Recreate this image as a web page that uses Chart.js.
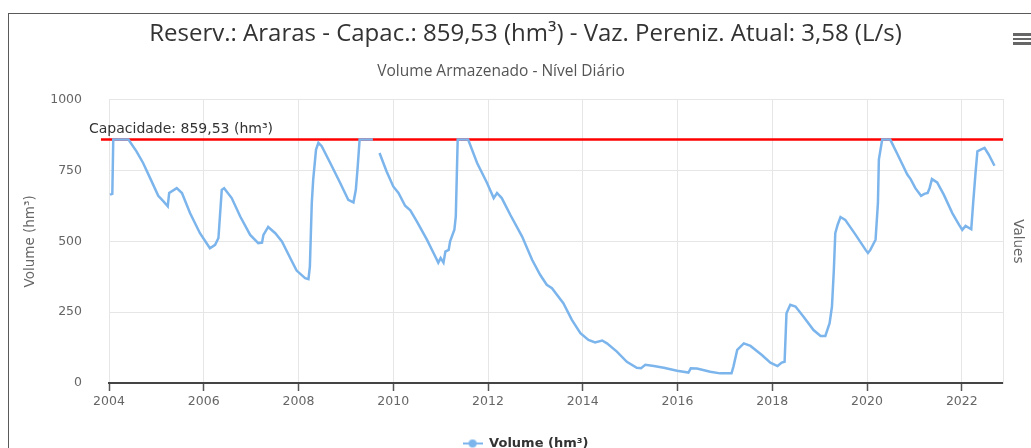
<!DOCTYPE html>
<html>
<head>
<meta charset="utf-8">
<script src="https://cdn.jsdelivr.net/npm/chart.js@4.4.1/dist/chart.umd.min.js"></script>
<style>
  html, body { margin: 0; padding: 0; background: #fff; overflow: hidden; }
  #frame { position: absolute; left: 8px; top: 13px; width: 1100px; height: 500px; border: 1px solid #5a5a5a; }
  #wrap { position: absolute; left: 0; top: 0; width: 1031px; height: 470px; }
  #menu { position: absolute; left: 1013px; top: 33px; width: 18px; }
  #menu span { display: block; height: 2.5px; background: #666; margin-bottom: 2px; }
</style>
</head>
<body>
<div id="frame"></div>
<div id="wrap"><canvas id="volChart"></canvas></div>
<div id="menu"><span></span><span></span><span></span></div>
<script>
/* ── Data ── */
const CAPACITY = 859.53;
const capYears = [2003.83, 2022.87];

const years = [
  2004.02, 2004.07, 2004.09, 2004.41, 2004.58, 2004.72, 2004.90, 2005.04, 2005.15, 2005.24,
  2005.27, 2005.43, 2005.54, 2005.71, 2005.92, 2006.13, 2006.24, 2006.31, 2006.38, 2006.43,
  2006.59, 2006.77, 2006.98, 2007.15, 2007.23, 2007.26, 2007.36, 2007.51, 2007.65, 2007.86,
  2007.96, 2008.14, 2008.21, 2008.24, 2008.28, 2008.31, 2008.37, 2008.42, 2008.49, 2008.67,
  2008.88, 2009.05, 2009.16, 2009.21, 2009.25, 2009.29, 2009.57, 2009.64, 2009.71, 2009.86,
  2010.00, 2010.11, 2010.25, 2010.36, 2010.50, 2010.71, 2010.85, 2010.95, 2011.00, 2011.06,
  2011.10, 2011.17, 2011.20, 2011.29, 2011.32, 2011.36, 2011.58, 2011.77, 2011.98, 2012.12,
  2012.19, 2012.29, 2012.47, 2012.72, 2012.93, 2013.10, 2013.24, 2013.35, 2013.59, 2013.77,
  2013.95, 2014.12, 2014.26, 2014.41, 2014.51, 2014.72, 2014.93, 2015.14, 2015.23, 2015.32,
  2015.50, 2015.71, 2015.99, 2016.23, 2016.28, 2016.41, 2016.69, 2016.90, 2017.14, 2017.18,
  2017.26, 2017.40, 2017.54, 2017.78, 2017.96, 2018.11, 2018.20, 2018.26, 2018.30, 2018.38,
  2018.49, 2018.66, 2018.87, 2019.02, 2019.12, 2019.21, 2019.26, 2019.30, 2019.33, 2019.38,
  2019.44, 2019.54, 2019.76, 2019.97, 2020.02, 2020.07, 2020.18, 2020.23, 2020.25, 2020.32,
  2020.49, 2020.63, 2020.85, 2020.92, 2021.02, 2021.14, 2021.21, 2021.28, 2021.32, 2021.37,
  2021.48, 2021.62, 2021.80, 2021.94, 2022.01, 2022.08, 2022.20, 2022.24, 2022.29, 2022.33,
  2022.40, 2022.48, 2022.57, 2022.69
];

const volume = [
  665, 668, 859.53, 859.53, 818, 777, 712, 661, 641, 624,
  671, 688, 671, 600, 529, 476, 488, 512, 682, 688,
  653, 588, 523, 494, 496, 523, 551, 529, 500, 430,
  397, 370, 367, 411, 635, 718, 824, 848, 836, 777,
  706, 647, 638, 682, 765, 859.53, 859.53, null, 812, 747,
  694, 671, 626, 610, 570, 506, 459, 425, 441, 425,
  464, 470, 500, 541, 588, 859.53, 859.53, 777, 706, 653,
  671, 653, 594, 517, 435, 382, 347, 335, 282, 223,
  176, 152, 143, 150, 140, 111, 75, 54, 52, 64,
  60, 54, 43, 37, 52, 51, 40, 34, 34, 58,
  117, 140, 131, 99, 72, 60, 72, 75, 246, 276,
  270, 234, 187, 166, 166, 211, 270, 400, 529, 559,
  586, 576, 523, 470, 459, 470, 506, 635, 789, 859.53,
  859.53, 812, 736, 720, 688, 661, 668, 671, 688, 720,
  708, 665, 600, 559, 541, 555, 543, 635, 742, 818,
  824, 830, 806, 767
];

const xTicks = [2004, 2006, 2008, 2010, 2012, 2014, 2016, 2018, 2020, 2022];
const yTicks = [0, 250, 500, 750, 1000];

const TITLE    = 'Reserv.: Araras - Capac.: 859,53 (hm³) - Vaz. Pereniz. Atual: 3,58 (L/s)';
const SUBTITLE = 'Volume Armazenado - Nível Diário';
const CAP_LABEL = 'Capacidade: 859,53 (hm³)';

/* ── Styles ── */
const LINE_BLUE = '#7cb5ec';
const GRID      = '#e6e6e6';
const LABEL     = '#666666';
const TICK_FONT = { family: "'DejaVu Sans', sans-serif", size: 12.5 };

/* legend symbol: line with a dot */
const legendMark = document.createElement('canvas');
legendMark.width = 20; legendMark.height = 10;
(function () {
  const c = legendMark.getContext('2d');
  c.strokeStyle = LINE_BLUE; c.lineWidth = 2;
  c.beginPath(); c.moveTo(0, 5); c.lineTo(20, 5); c.stroke();
  c.fillStyle = LINE_BLUE;
  c.beginPath(); c.arc(10, 5, 4, 0, Math.PI * 2); c.fill();
})();

/* subtitle + plot line label */
const extraText = {
  id: 'extraText',
  afterDatasetsDraw(chart) {
    const { ctx, chartArea, scales } = chart;
    ctx.save();
    ctx.textBaseline = 'middle';
    ctx.fillStyle = '#333333';
    ctx.font = "14px 'DejaVu Sans', sans-serif";
    ctx.textAlign = 'left';
    ctx.fillText(CAP_LABEL, chartArea.left - 20, scales.y.getPixelForValue(CAPACITY) - 10);
    ctx.fillStyle = '#555555';
    ctx.font = "15.5px 'Open Sans', sans-serif";
    ctx.textAlign = 'center';
    ctx.fillText(SUBTITLE, 501, 72);
    ctx.restore();
  }
};

new Chart(document.getElementById('volChart'), {
  type: 'line',
  data: {
    datasets: [
      {
        label: 'Volume (hm³)',
        data: years.map((x, i) => ({ x: x, y: volume[i] })),
        borderColor: LINE_BLUE,
        backgroundColor: LINE_BLUE,
        borderWidth: 2.5,
        pointRadius: 0,
        tension: 0,
        spanGaps: false,
        order: 1
      },
      {
        label: 'Capacidade',
        data: capYears.map(x => ({ x: x, y: CAPACITY })),
        borderColor: '#ff0000',
        borderWidth: 2.5,
        pointRadius: 0,
        clip: false,
        order: 2
      }
    ]
  },
  options: {
    responsive: true,
    maintainAspectRatio: false,
    animation: false,
    layout: { padding: { left: 20, right: 0, top: 0, bottom: 10 } },
    plugins: {
      title: {
        display: true,
        text: TITLE,
        color: '#333333',
        font: { family: "'Open Sans', sans-serif", size: 24, weight: 'normal' },
        padding: { top: 20, bottom: 51 }
      },
      legend: {
        position: 'bottom',
        labels: {
          filter: item => item.datasetIndex === 0,
          usePointStyle: true,
          pointStyle: legendMark,
          pointStyleWidth: 20,
          color: '#333333',
          font: { family: "'DejaVu Sans', sans-serif", size: 13, weight: 'bold' },
          padding: 10
        }
      },
      tooltip: { enabled: false }
    },
    scales: {
      x: {
        type: 'linear',
        min: 2004,
        max: 2022.87,
        afterBuildTicks: s => { s.ticks = xTicks.map(v => ({ value: v })); },
        afterFit: s => { s.height = 44; },
        grid: { color: GRID, tickColor: '#555555', tickLength: 8, tickWidth: 1.5 },
        border: { color: '#444444', width: 2 },
        ticks: { color: LABEL, font: TICK_FONT, padding: 3, maxRotation: 0, includeBounds: false, callback: v => String(v) }
      },
      y: {
        min: 0,
        max: 1000,
        afterBuildTicks: s => { s.ticks = yTicks.map(v => ({ value: v })); },
        afterFit: s => { s.width = 89; },
        grid: { color: GRID, drawTicks: false },
        border: { display: false },
        ticks: { color: LABEL, font: TICK_FONT, padding: 27, callback: v => String(v) },
        title: {
          display: true,
          text: 'Volume (hm³)',
          color: LABEL,
          font: { family: "'DejaVu Sans', sans-serif", size: 13.5 },
          padding: { top: 2, bottom: 0 }
        }
      },
      y2: {
        position: 'right',
        min: 0,
        max: 1000,
        afterFit: s => { s.width = 28; },
        grid: { display: false, drawTicks: false },
        border: { color: GRID, width: 1 },
        ticks: { display: false },
        title: {
          display: true,
          text: 'Values',
          color: LABEL,
          font: { family: "'DejaVu Sans', sans-serif", size: 13.5 },
          padding: { top: 5, bottom: 0 }
        }
      }
    }
  },
  plugins: [extraText]
});
</script>
</body>
</html>
